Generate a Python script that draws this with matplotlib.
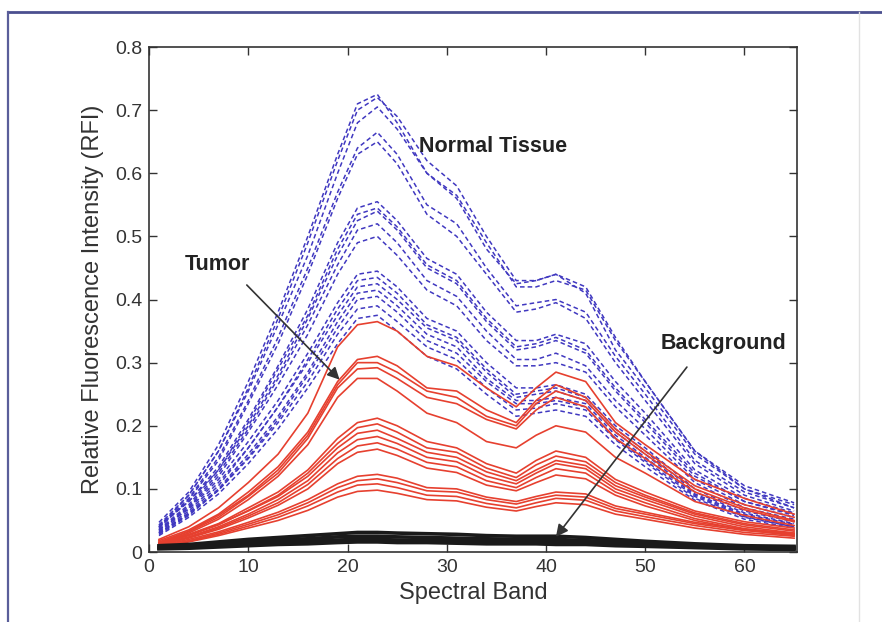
import matplotlib
matplotlib.use("Agg")
import matplotlib.pyplot as plt
from matplotlib.lines import Line2D

plt.rcParams['font.family'] = ['Liberation Sans', 'DejaVu Sans']

bands = [1, 4, 7, 10, 13, 16, 19, 21, 23, 25, 28, 31, 34, 37, 39, 41, 44, 47, 50, 55, 60, 65]

# dashed blue curves
normal_tissue = [
    [0.047, 0.095, 0.17, 0.27, 0.38, 0.50, 0.63, 0.71, 0.725, 0.68, 0.60, 0.56, 0.48, 0.425, 0.43, 0.44, 0.41, 0.32, 0.26, 0.155, 0.10, 0.075],
    [0.040, 0.090, 0.16, 0.26, 0.37, 0.49, 0.62, 0.70, 0.72, 0.69, 0.62, 0.58, 0.50, 0.43, 0.43, 0.44, 0.42, 0.34, 0.27, 0.16, 0.105, 0.078],
    [0.043, 0.090, 0.16, 0.255, 0.36, 0.47, 0.60, 0.68, 0.705, 0.67, 0.60, 0.565, 0.49, 0.42, 0.42, 0.43, 0.415, 0.335, 0.27, 0.16, 0.10, 0.07],
    [0.040, 0.085, 0.15, 0.24, 0.34, 0.45, 0.57, 0.64, 0.665, 0.63, 0.55, 0.52, 0.45, 0.39, 0.395, 0.40, 0.38, 0.31, 0.25, 0.145, 0.095, 0.07],
    [0.038, 0.083, 0.145, 0.235, 0.33, 0.44, 0.56, 0.63, 0.65, 0.615, 0.535, 0.50, 0.44, 0.38, 0.385, 0.395, 0.37, 0.30, 0.24, 0.14, 0.09, 0.065],
    [0.040, 0.080, 0.135, 0.21, 0.295, 0.385, 0.49, 0.545, 0.555, 0.525, 0.465, 0.44, 0.38, 0.335, 0.335, 0.345, 0.33, 0.27, 0.22, 0.13, 0.085, 0.062],
    [0.036, 0.075, 0.13, 0.205, 0.29, 0.375, 0.48, 0.535, 0.545, 0.515, 0.455, 0.43, 0.37, 0.325, 0.33, 0.34, 0.32, 0.26, 0.21, 0.125, 0.08, 0.058],
    [0.042, 0.080, 0.13, 0.20, 0.28, 0.37, 0.47, 0.525, 0.54, 0.51, 0.45, 0.425, 0.365, 0.32, 0.325, 0.335, 0.315, 0.255, 0.205, 0.12, 0.08, 0.06],
    [0.035, 0.072, 0.125, 0.195, 0.275, 0.36, 0.455, 0.51, 0.52, 0.49, 0.43, 0.405, 0.35, 0.305, 0.305, 0.315, 0.295, 0.24, 0.195, 0.115, 0.075, 0.055],
    [0.033, 0.070, 0.12, 0.19, 0.265, 0.345, 0.44, 0.49, 0.50, 0.47, 0.415, 0.39, 0.335, 0.295, 0.295, 0.30, 0.285, 0.23, 0.185, 0.11, 0.07, 0.052],
    [0.035, 0.068, 0.115, 0.175, 0.24, 0.315, 0.395, 0.44, 0.445, 0.42, 0.37, 0.35, 0.30, 0.26, 0.26, 0.265, 0.25, 0.20, 0.165, 0.10, 0.065, 0.048],
    [0.030, 0.062, 0.105, 0.165, 0.23, 0.305, 0.385, 0.43, 0.435, 0.41, 0.36, 0.34, 0.29, 0.25, 0.255, 0.26, 0.245, 0.195, 0.16, 0.095, 0.062, 0.045],
    [0.032, 0.065, 0.11, 0.165, 0.23, 0.30, 0.375, 0.42, 0.425, 0.40, 0.355, 0.335, 0.285, 0.245, 0.25, 0.255, 0.24, 0.19, 0.155, 0.092, 0.06, 0.044],
    [0.030, 0.060, 0.10, 0.155, 0.215, 0.285, 0.365, 0.41, 0.415, 0.39, 0.345, 0.325, 0.275, 0.24, 0.24, 0.245, 0.235, 0.185, 0.15, 0.09, 0.058, 0.042],
    [0.028, 0.058, 0.098, 0.15, 0.21, 0.28, 0.355, 0.40, 0.405, 0.38, 0.335, 0.315, 0.27, 0.235, 0.235, 0.24, 0.23, 0.18, 0.145, 0.088, 0.056, 0.04],
    [0.030, 0.060, 0.098, 0.148, 0.205, 0.27, 0.345, 0.385, 0.39, 0.365, 0.325, 0.305, 0.26, 0.225, 0.228, 0.235, 0.225, 0.178, 0.142, 0.085, 0.055, 0.04],
    [0.026, 0.055, 0.092, 0.14, 0.195, 0.26, 0.33, 0.37, 0.375, 0.35, 0.31, 0.29, 0.25, 0.215, 0.22, 0.225, 0.215, 0.17, 0.135, 0.082, 0.052, 0.038],
]

# solid red curves
tumor = [
    [0.020, 0.040, 0.070, 0.11, 0.155, 0.22, 0.325, 0.36, 0.365, 0.35, 0.31, 0.295, 0.26, 0.23, 0.26, 0.285, 0.27, 0.205, 0.17, 0.115, 0.085, 0.06],
    [0.018, 0.035, 0.060, 0.095, 0.135, 0.19, 0.27, 0.305, 0.31, 0.295, 0.26, 0.255, 0.225, 0.205, 0.24, 0.265, 0.245, 0.195, 0.16, 0.105, 0.075, 0.055],
    [0.015, 0.033, 0.058, 0.09, 0.13, 0.185, 0.265, 0.30, 0.30, 0.285, 0.255, 0.245, 0.215, 0.20, 0.235, 0.255, 0.24, 0.19, 0.155, 0.10, 0.07, 0.05],
    [0.016, 0.032, 0.055, 0.088, 0.125, 0.18, 0.26, 0.29, 0.292, 0.275, 0.245, 0.235, 0.21, 0.195, 0.225, 0.245, 0.23, 0.18, 0.148, 0.095, 0.067, 0.048],
    [0.014, 0.030, 0.052, 0.083, 0.12, 0.17, 0.245, 0.275, 0.275, 0.255, 0.22, 0.205, 0.175, 0.165, 0.185, 0.20, 0.19, 0.15, 0.125, 0.08, 0.058, 0.042],
    [0.015, 0.028, 0.045, 0.07, 0.095, 0.13, 0.18, 0.205, 0.212, 0.20, 0.175, 0.165, 0.14, 0.125, 0.145, 0.16, 0.15, 0.115, 0.095, 0.065, 0.048, 0.038],
    [0.013, 0.026, 0.043, 0.066, 0.09, 0.125, 0.172, 0.197, 0.203, 0.19, 0.165, 0.158, 0.133, 0.118, 0.138, 0.152, 0.143, 0.11, 0.09, 0.062, 0.045, 0.035],
    [0.014, 0.027, 0.044, 0.065, 0.088, 0.12, 0.165, 0.188, 0.193, 0.18, 0.158, 0.15, 0.127, 0.113, 0.13, 0.145, 0.137, 0.105, 0.087, 0.06, 0.043, 0.033],
    [0.012, 0.024, 0.040, 0.06, 0.083, 0.113, 0.157, 0.178, 0.183, 0.172, 0.15, 0.143, 0.12, 0.108, 0.125, 0.14, 0.132, 0.10, 0.083, 0.057, 0.04, 0.03],
    [0.012, 0.023, 0.038, 0.057, 0.078, 0.107, 0.148, 0.168, 0.173, 0.163, 0.142, 0.135, 0.113, 0.102, 0.118, 0.132, 0.125, 0.095, 0.078, 0.053, 0.037, 0.028],
    [0.011, 0.022, 0.036, 0.054, 0.074, 0.10, 0.14, 0.158, 0.163, 0.153, 0.133, 0.126, 0.106, 0.097, 0.11, 0.122, 0.116, 0.09, 0.073, 0.05, 0.035, 0.026],
    [0.010, 0.020, 0.032, 0.047, 0.063, 0.083, 0.108, 0.12, 0.123, 0.117, 0.102, 0.10, 0.087, 0.08, 0.088, 0.095, 0.092, 0.073, 0.063, 0.047, 0.036, 0.03],
    [0.009, 0.018, 0.030, 0.044, 0.059, 0.078, 0.102, 0.113, 0.116, 0.11, 0.097, 0.095, 0.083, 0.076, 0.084, 0.09, 0.087, 0.069, 0.06, 0.045, 0.034, 0.028],
    [0.009, 0.017, 0.028, 0.041, 0.055, 0.073, 0.095, 0.106, 0.108, 0.102, 0.09, 0.088, 0.077, 0.07, 0.078, 0.085, 0.082, 0.065, 0.056, 0.042, 0.031, 0.025],
    [0.008, 0.016, 0.026, 0.038, 0.05, 0.066, 0.087, 0.096, 0.098, 0.093, 0.083, 0.081, 0.071, 0.065, 0.072, 0.078, 0.075, 0.06, 0.052, 0.038, 0.028, 0.022],
]

# thick black curves
background = [
    [0.010, 0.012, 0.016, 0.020, 0.023, 0.026, 0.029, 0.031, 0.031, 0.030, 0.029, 0.028, 0.026, 0.025, 0.025, 0.025, 0.023, 0.020, 0.017, 0.013, 0.010, 0.009],
    [0.008, 0.010, 0.013, 0.016, 0.019, 0.021, 0.024, 0.025, 0.025, 0.024, 0.023, 0.022, 0.021, 0.020, 0.020, 0.020, 0.018, 0.016, 0.014, 0.011, 0.008, 0.007],
    [0.006, 0.008, 0.010, 0.013, 0.015, 0.017, 0.019, 0.020, 0.020, 0.019, 0.018, 0.018, 0.017, 0.016, 0.016, 0.016, 0.015, 0.013, 0.011, 0.009, 0.007, 0.006],
    [0.005, 0.006, 0.008, 0.010, 0.012, 0.013, 0.015, 0.016, 0.016, 0.015, 0.015, 0.014, 0.013, 0.013, 0.013, 0.012, 0.012, 0.010, 0.009, 0.007, 0.005, 0.004],
]

x_ticks = [0, 10, 20, 30, 40, 50, 60]
y_ticks = [0, 0.1, 0.2, 0.3, 0.4, 0.5, 0.6, 0.7, 0.8]
y_tick_labels = ['0', '0.1', '0.2', '0.3', '0.4', '0.5', '0.6', '0.7', '0.8']

fig = plt.figure(figsize=(8.82, 6.22), dpi=100)
ax = fig.add_axes([0.169, 0.1125, 0.7347, 0.8119])

for curve in normal_tissue:
    ax.plot(bands, curve, color='#4038c0', lw=1.1, dashes=(3, 2))
for curve in tumor:
    ax.plot(bands, curve, color='#e6402f', lw=1.2)
for curve in background:
    ax.plot(bands, curve, color='#1a1a1a', lw=2.6)

ax.set_xlim(0, 65.3)
ax.set_ylim(0, 0.8)
ax.set_xticks(x_ticks)
ax.set_yticks(y_ticks)
ax.set_yticklabels(y_tick_labels)
ax.tick_params(direction='in', length=6, width=1, top=True, right=True,
               labelsize=14, colors='#333333', pad=5)
for s in ax.spines.values():
    s.set_linewidth(1.2)
    s.set_color('#333333')

ax.set_xlabel('Spectral Band', fontsize=17, color='#333333', labelpad=4)
ax.set_ylabel('Relative Fluorescence Intensity (RFI)', fontsize=17, color='#333333', labelpad=8)

ax.text(27.2, 0.642, 'Normal Tissue', fontsize=15.5, fontweight='bold', color='#222222', va='center')
ax.text(3.6, 0.455, 'Tumor', fontsize=15.5, fontweight='bold', color='#222222', va='center')
ax.text(51.6, 0.33, 'Background', fontsize=15.5, fontweight='bold', color='#222222', va='center')

arrow = dict(arrowstyle='-|>', color='#333333', lw=1.2, mutation_scale=18, shrinkA=0, shrinkB=0)
ax.annotate('', xy=(19.2, 0.273), xytext=(9.85, 0.423), arrowprops=arrow)
ax.annotate('', xy=(41.0, 0.024), xytext=(54.2, 0.293), arrowprops=arrow)

# scanned page frame
fig.add_artist(Line2D([0.009, 1.0], [0.981, 0.981], color='#4b4f8f', lw=2))
fig.add_artist(Line2D([0.009, 0.009], [0.0, 0.981], color='#5a5e9a', lw=1.6))
fig.add_artist(Line2D([0.974, 0.974], [0.0, 0.981], color='#e2e2e2', lw=1))

fig.savefig('out.png', dpi=100)
